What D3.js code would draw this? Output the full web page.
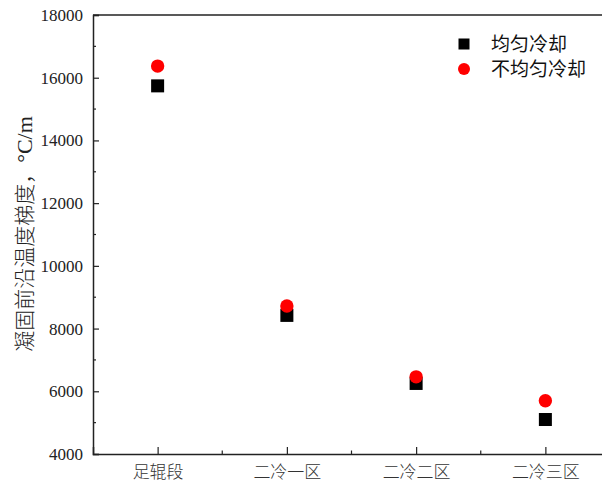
<!DOCTYPE html>
<html>
<head>
<meta charset="utf-8">
<script src="https://cdn.jsdelivr.net/npm/d3@7"></script>
<style>
  html, body { margin: 0; padding: 0; background: #fff; }
  svg { display: block; }
</style>
</head>
<body>
<svg id="chart" width="602" height="484"></svg>
<script>
// Zones along the caster
const categories = ["足辊段", "二冷一区", "二冷二区", "二冷三区"];
// Temperature gradient at the solidification front, °C/m
const uniformCooling = [15740, 8420, 6250, 5100];
const nonUniformCooling = [16370, 8720, 6460, 5700];
const seriesNames = ["均匀冷却", "不均匀冷却"];
const yTicks = [4000, 6000, 8000, 10000, 12000, 14000, 16000, 18000];
const yMinorTicks = [5000, 7000, 9000, 11000, 13000, 15000, 17000];

const svg = d3.select("#chart");
const plotLeft = 93, plotTop = 15, plotBottom = 454, plotRight = 610;

const x = d3.scaleLinear().domain([0.5, 4.5]).range([plotLeft, plotRight]);
const y = d3.scaleLinear().domain([4000, 18000]).range([plotBottom, plotTop]);

const axisColor = "#222";
const serif = "'Liberation Serif', 'Times New Roman', serif";
const cjk = "'Noto Sans CJK SC', sans-serif";

// Frame
svg.append("line").attr("x1", plotLeft).attr("x2", plotRight).attr("y1", plotTop).attr("y2", plotTop)
  .attr("stroke", axisColor).attr("stroke-width", 1.5);

// Y axis with inward ticks
const yAxis = d3.axisLeft(y).tickValues(yTicks).tickSize(-6).tickPadding(10)
  .tickFormat(d3.format("d"));
const gy = svg.append("g").attr("transform", `translate(${plotLeft},0)`).call(yAxis);
gy.select(".domain").attr("stroke", axisColor).attr("stroke-width", 1.5);
gy.selectAll(".tick line").attr("stroke", axisColor).attr("stroke-width", 1.2);
gy.selectAll(".tick text").attr("font-family", serif).attr("font-size", 17).attr("fill", "#222");
svg.append("g").selectAll("line").data(yMinorTicks).join("line")
  .attr("x1", plotLeft).attr("x2", plotLeft + 3).attr("y1", d => y(d)).attr("y2", d => y(d))
  .attr("stroke", axisColor).attr("stroke-width", 1.2);

// X axis with inward ticks
const xAxis = d3.axisBottom(x).tickValues([1, 2, 3, 4]).tickSize(-7).tickPadding(10)
  .tickFormat(i => categories[i - 1]);
const gx = svg.append("g").attr("transform", `translate(0,${plotBottom})`).call(xAxis);
gx.select(".domain").attr("stroke", axisColor).attr("stroke-width", 1.5);
gx.selectAll(".tick line").attr("stroke", axisColor).attr("stroke-width", 1.2);
gx.selectAll(".tick text").attr("font-family", cjk).attr("font-size", 17)
  .attr("fill", "#333").attr("dy", "0.85em").attr("font-weight", 300);
svg.append("g").selectAll("line").data([1.5, 2.5, 3.5]).join("line")
  .attr("x1", d => x(d)).attr("x2", d => x(d)).attr("y1", plotBottom).attr("y2", plotBottom - 3.5)
  .attr("stroke", axisColor).attr("stroke-width", 1.2);

// Y axis title: Chinese part in CJK font, unit in serif
const yTitle = svg.append("text")
  .attr("transform", `translate(32,234) rotate(-90)`)
  .attr("text-anchor", "middle")
  .attr("font-size", 21).attr("fill", "#222");
yTitle.append("tspan").attr("font-family", cjk).attr("font-weight", 300).text("凝固前沿温度梯度，");
yTitle.append("tspan").attr("font-family", serif).attr("font-size", 22).text("°C/m");

// Data points
const sq = 13;
svg.append("g").selectAll("rect").data(uniformCooling).join("rect")
  .attr("x", (d, i) => x(i + 1) - sq / 2).attr("y", d => y(d) - sq / 2)
  .attr("width", sq).attr("height", sq).attr("fill", "#000");
svg.append("g").selectAll("circle").data(nonUniformCooling).join("circle")
  .attr("cx", (d, i) => x(i + 1)).attr("cy", d => y(d)).attr("r", 6.7)
  .attr("fill", "#ff0000");

// Legend
const legend = svg.append("g");
legend.append("rect").attr("x", 458.5).attr("y", 38.5).attr("width", 11).attr("height", 11).attr("fill", "#000");
legend.append("circle").attr("cx", 464).attr("cy", 69).attr("r", 6).attr("fill", "#ff0000");
legend.selectAll("text").data(seriesNames).join("text")
  .attr("x", 491).attr("y", (d, i) => 44 + i * 25).attr("dy", "0.36em")
  .attr("font-family", cjk).attr("font-size", 19).attr("fill", "#111")
  .text(d => d);
</script>
</body>
</html>
